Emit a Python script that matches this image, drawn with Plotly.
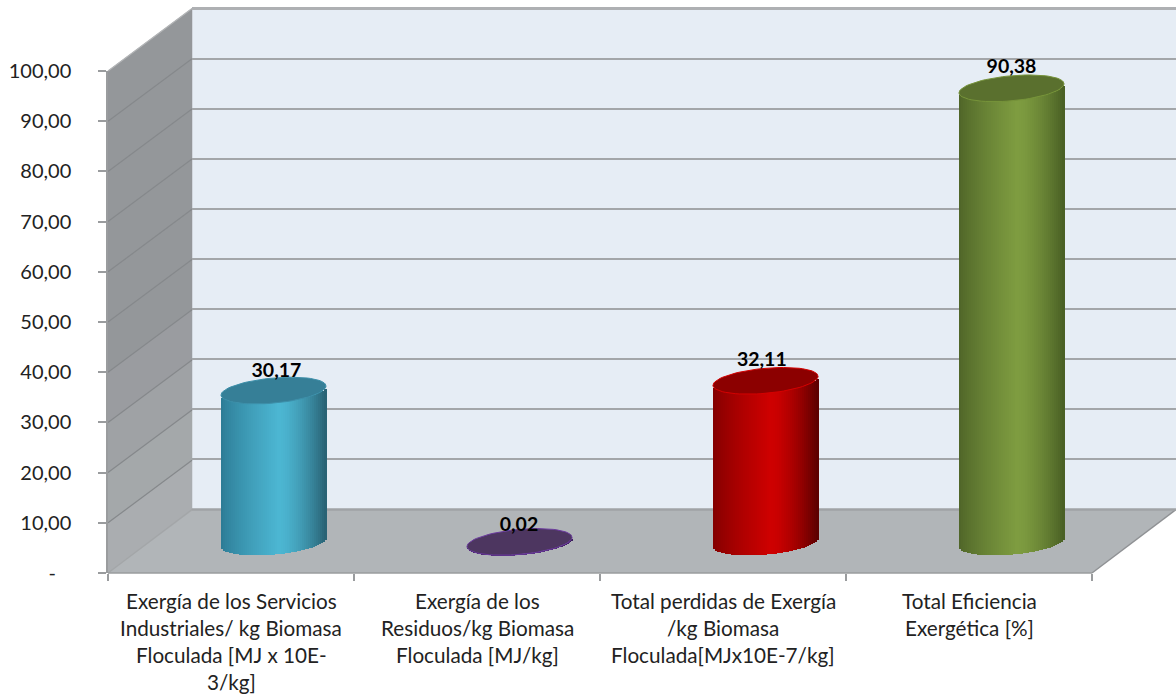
import math
import plotly.graph_objects as go

# ---- data ----
CATEGORIES = ["Exergía de los Servicios Industriales/ kg Biomasa Floculada [MJ x 10E-3/kg]",
              "Exergía de los Residuos/kg Biomasa Floculada [MJ/kg]",
              "Total perdidas de Exergía /kg Biomasa Floculada[MJx10E-7/kg]",
              "Total Eficiencia Exergética [%]"]
CATEGORY_LINES = [["Exergía de los Servicios", "Industriales/ kg Biomasa", "Floculada [MJ x 10E-", "3/kg]"],
                  ["Exergía de los", "Residuos/kg Biomasa", "Floculada [MJ/kg]"],
                  ["Total perdidas de Exergía", "/kg Biomasa", "Floculada[MJx10E-7/kg]"],
                  ["Total Eficiencia", "Exergética [%]"]]
VALUES = [30.17, 0.02, 32.11, 90.38]
VALUE_LABELS = ["30,17", "0,02", "32,11", "90,38"]
Y_TICKS = [0, 10, 20, 30, 40, 50, 60, 70, 80, 90, 100]
Y_LABELS = ["-\u00a0\u00a0\u00a0", "10,00", "20,00", "30,00", "40,00", "50,00", "60,00", "70,00", "80,00", "90,00", "100,00"]

# ---- style ----
EDGE_L = [(44, 122, 148), (60, 30, 90), (130, 0, 0), (78, 100, 40)]
MID = [(76, 182, 210), (90, 50, 130), (206, 0, 0), (126, 156, 64)]
EDGE_R = [(40, 96, 114), (60, 30, 90), (90, 0, 0), (72, 94, 36)]
TOP = ["#367f97", "#4d3660", "#8c0000", "#5a702e"]
TOP_LINE = ["#3d8fa9", "#6b3a9e", "#d40000", "#76933a"]
LABEL_X_SHIFT = [0.012, -0.002, -0.015, 0.0]
LABEL_Y_SHIFT = [-0.8, -1.4, -0.6, -0.4]
FONT = "Lato"
TXT = "#222222"

W, H = 1176, 696
L, R, T, B = 108, 1176, 12, 573     # paper area in pixels
WALL_TOP, WALL_FLOOR = 8.5, 509.5   # back wall, top and floor edges in pixels
WALL_X = 192
DY = 63                             # depth of the floor
SCALE = 5.02                        # pixels per value unit


def fx(px):
    return (px - L) / (R - L)


def fy(py):
    return (B - py) / (B - T)


def mix(a, b, t):
    return tuple(round(a[k] + (b[k] - a[k]) * t) for k in range(3))


def rgb(c):
    return "rgb(%d,%d,%d)" % c


def shade(i, t):
    centre = 0.08
    if t < centre:
        u = (t + 1) / (centre + 1)
        return rgb(mix(EDGE_L[i], MID[i], min(1, u ** 0.8)))
    u = (t - centre) / (1 - centre)
    return rgb(mix(MID[i], EDGE_R[i], u ** 1.6))


FRONT_Y0 = 573
MID_Y0 = 542
MID_X0 = 108 + 42.5
UNIT = 246
HALF = 52.5 / UNIT
ELL_B = 2.5
ELL_TILT = 0.9
MID_RANGE = [-6, 105]
BACK_TOP_VALUE = 100 * (WALL_FLOOR - T) / (WALL_FLOOR - WALL_TOP)

fig = go.Figure()

# underlying bars carrying the values
fig.add_trace(go.Bar(x=[0, 1, 2, 3], y=VALUES, width=2 * HALF * 0.96, xaxis="x2", yaxis="y2",
                     base=[0, 0, 0, 0], marker=dict(color=[rgb(c) for c in MID], line=dict(width=0)),
                     hoverinfo="skip", showlegend=False))

# strips making the cylinder shading
N = 53
for s in range(N):
    t = -1 + (2 * s + 1) / N
    low = -ELL_B * math.sqrt(max(0, 1 - t * t)) + ELL_TILT * t
    fig.add_trace(go.Bar(x=[k + t * HALF for k in range(4)], y=VALUES, base=[low] * 4,
                         width=2 * HALF / N * 1.35, xaxis="x2", yaxis="y2",
                         marker=dict(color=[shade(k, t) for k in range(4)], line=dict(width=0)),
                         hoverinfo="skip", showlegend=False))

# top ellipses
for k, v in enumerate(VALUES):
    th = [2 * math.pi * a / 72 for a in range(73)]
    fig.add_trace(go.Scatter(x=[k + HALF * math.cos(a) for a in th],
                             y=[v + ELL_B * math.sin(a) + ELL_TILT * math.cos(a) for a in th],
                             mode="lines", fill="toself", fillcolor=TOP[k],
                             line=dict(color=TOP_LINE[k], width=1), xaxis="x2", yaxis="y2",
                             hoverinfo="skip", showlegend=False))

# value labels
fig.add_trace(go.Scatter(x=[k + LABEL_X_SHIFT[k] for k in range(4)],
                         y=[v + ELL_B + LABEL_Y_SHIFT[k] for k, v in enumerate(VALUES)],
                         text=VALUE_LABELS, mode="text",
                         textposition="top center", cliponaxis=False,
                         textfont=dict(family=FONT, size=19.5, color="#000000", weight="bold"),
                         xaxis="x2", yaxis="y2", hoverinfo="skip", showlegend=False))

# walls and floor
shapes = []


def poly(points, color, line=None, lw=0):
    d = "M " + " L ".join("%.5f %.5f" % (fx(a), fy(b)) for a, b in points) + " Z"
    shapes.append(dict(type="path", xref="paper", yref="paper", path=d, fillcolor=color,
                       line=dict(color=line or color, width=lw), layer="below"))


def seg(p, q, color, lw):
    shapes.append(dict(type="line", xref="paper", yref="paper", x0=fx(p[0]), y0=fy(p[1]),
                       x1=fx(q[0]), y1=fy(q[1]), line=dict(color=color, width=lw), layer="below"))


poly([(WALL_X, WALL_TOP), (R, WALL_TOP), (R, WALL_FLOOR), (WALL_X, WALL_FLOOR)], "#e6edf5")
poly([(L, FRONT_Y0), (WALL_X, WALL_FLOOR), (R, WALL_FLOOR), (1092, FRONT_Y0)], "#b1b5b8")
for a, b in zip(Y_TICKS[:-1], Y_TICKS[1:]):
    ya, yb = FRONT_Y0 - a * SCALE, FRONT_Y0 - b * SCALE
    col = rgb(mix((170, 173, 176), (148, 151, 154), min(1, a / 40)))
    poly([(L, ya), (WALL_X, ya - DY + 0.5), (WALL_X, yb - DY + 0.5), (L, yb)], col, col, 0.5)
for v in Y_TICKS[1:]:
    y = FRONT_Y0 - v * SCALE
    seg((L, y), (WALL_X, y - DY + 0.5), "#85888b" if v < 100 else "#b3b5b7", 1.2)
seg((L, FRONT_Y0), (WALL_X, WALL_FLOOR), "#a3a6a8", 1.2)
seg((1092, FRONT_Y0), (R, WALL_FLOOR), "#8f9194", 1.5)
seg((L, FRONT_Y0), (1092, FRONT_Y0), "#9a9c9e", 1.5)
seg((WALL_X, WALL_TOP), (R, WALL_TOP), "#aeb0b3", 3)
seg((WALL_X, WALL_FLOOR), (R, WALL_FLOOR), "#a0a3a6", 2.5)

# category labels, one annotation per line
annotations = []
for k, lines in enumerate(CATEGORY_LINES):
    for n, text in enumerate(lines):
        annotations.append(dict(x=k, xref="x3", y=fy(601 + 27 * n), yref="paper", text=text,
                                showarrow=False, xanchor="center", yanchor="middle",
                                font=dict(family=FONT, size=20.7, color=TXT)))

fig.update_layout(
    width=W, height=H, margin=dict(l=L, r=W - R, t=T, b=H - B, pad=0),
    paper_bgcolor="#ffffff", plot_bgcolor="rgba(0,0,0,0)", barmode="overlay", bargap=0,
    showlegend=False, shapes=shapes, annotations=annotations, hovermode=False,
    font=dict(family=FONT, color=TXT),
    # back wall: gridlines
    xaxis=dict(domain=[fx(WALL_X), 1], range=[0, 1], visible=False, fixedrange=True),
    yaxis=dict(domain=[fy(WALL_FLOOR), 1], range=[0, BACK_TOP_VALUE], dtick=10, showgrid=True,
               gridcolor="#a3a6a9", gridwidth=2.2, zeroline=False, showticklabels=False, ticks="",
               showline=False, anchor="x"),
    # middle of the depth: the cylinders
    xaxis2=dict(domain=[fx(MID_X0), fx(MID_X0 + 4 * UNIT)], range=[-0.5, 3.5], visible=False,
                anchor="y2", fixedrange=True),
    yaxis2=dict(domain=[fy(MID_Y0 - MID_RANGE[0] * SCALE), fy(MID_Y0 - MID_RANGE[1] * SCALE)],
                range=MID_RANGE, visible=False, anchor="x2", fixedrange=True),
    # front edge: the visible axes
    xaxis3=dict(domain=[0, fx(1092)], type="category", categoryorder="array", categoryarray=CATEGORIES,
                range=[-0.5, 3.5], tickson="boundaries", ticks="outside", ticklen=7, tickwidth=1.5,
                tickcolor="#9a9c9e", showticklabels=False, showgrid=False, zeroline=False,
                showline=False, anchor="y3", fixedrange=True),
    yaxis3=dict(domain=[0, fy(71)], range=[0, 100], tickmode="array", tickvals=Y_TICKS, ticktext=Y_LABELS,
                ticks="outside", ticklen=8, tickwidth=1.5, tickcolor="#9a9c9e", ticklabelstandoff=23,
                tickfont=dict(family=FONT, size=20, color=TXT), showgrid=False, zeroline=False,
                showline=True, linecolor="#9a9c9e", linewidth=1.5, anchor="x3", fixedrange=True),
)
# traces that keep the other axes alive
fig.add_trace(go.Scatter(x=CATEGORIES, y=VALUES, mode="markers", marker=dict(opacity=0, size=1),
                         xaxis="x3", yaxis="y3", hoverinfo="skip", showlegend=False))
fig.add_trace(go.Scatter(x=[0.5], y=[50], mode="markers", marker=dict(opacity=0, size=1),
                         xaxis="x", yaxis="y", hoverinfo="skip", showlegend=False))

fig.write_html("out.html", config=dict(displayModeBar=False),
               post_script="document.body.style.margin='0';")
